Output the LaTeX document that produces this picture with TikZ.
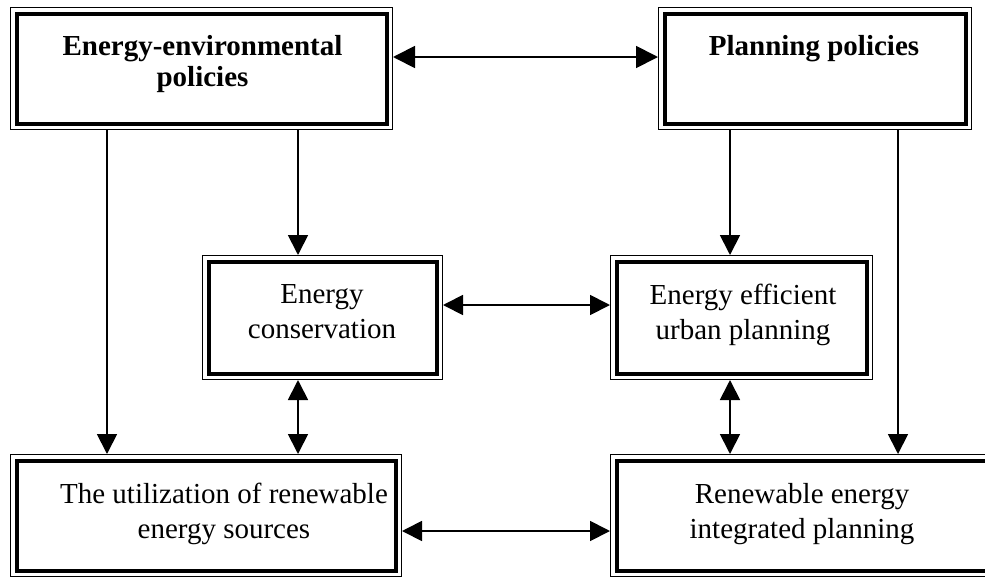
\documentclass[tikz,border=0pt]{standalone}
\usepackage{fontspec}
\setmainfont{Liberation Serif}
\usetikzlibrary{arrows.meta}
\begin{document}
\begin{tikzpicture}[x=1pt,y=-1pt,
  box/.style={draw=none, inner sep=0pt, outer sep=0pt},
  txt/.style={inner sep=0pt, outer sep=0pt, align=center,
    font=\fontsize{29}{35}\selectfont},
  boldtxt/.style={txt, font=\fontsize{29}{31}\selectfont\bfseries},
  arr/.style={line width=1.8pt, -{Triangle[length=20pt,width=20pt]}},
  darr/.style={line width=1.8pt, {Triangle[length=20pt,width=20pt]}-{Triangle[length=20pt,width=20pt]}},
  bigdarr/.style={line width=1.8pt, {Triangle[length=22pt,width=22pt]}-{Triangle[length=22pt,width=22pt]}}]
\useasboundingbox (0,0) rectangle (985,579);

% frames
\node[box, minimum width=383pt, minimum height=123pt] (EE) at (201.5,68.5) {};
\node[box, minimum width=314pt, minimum height=123pt] (PP) at (815,68.5) {};
\node[box, minimum width=241pt, minimum height=125pt] (EC) at (322.5,317.5) {};
\node[box, minimum width=263pt, minimum height=125pt] (EU) at (741.5,317.5) {};
\node[box, minimum width=392pt, minimum height=123pt] (UR) at (206,515.5) {};
\node[box, minimum width=384pt, minimum height=123pt] (RI) at (802,515.5) {};

% thin-thick borders
\foreach \n in {EE,PP,EC,EU,UR,RI}{
  \draw[line width=1pt] ([shift={(0.5,0.5)}]\n.north west) rectangle ([shift={(-0.5,-0.5)}]\n.south east);
  \draw[line width=4pt] ([shift={(6.5,6.5)}]\n.north west) rectangle ([shift={(-6.5,-6.5)}]\n.south east);
}

% labels
\node[boldtxt] (EEt) at (202.5,64.3) {\strut Energy-environmental\\\strut policies};
\node[boldtxt, anchor=base] (PPt) at (814,55) {Planning policies};
\node[txt] (ECt) at (322,313.5) {\strut Energy\\\strut conservation};
\node[txt] (EUt) at (743,314.5) {\strut Energy efficient\\\strut urban planning};
\node[txt] (URt) at (224,513.5) {\strut The utilization of renewable\\\strut energy sources};
\node[txt] (RIt) at (802,513.5) {\strut Renewable energy\\\strut integrated planning};

% columns of the vertical connectors
\coordinate (cA) at (107,0);
\coordinate (cB) at (298,0);
\coordinate (cC) at (730,0);
\coordinate (cD) at (898,0);
% rows of the horizontal connectors
\coordinate (rA) at (0,57);
\coordinate (rB) at (0,305);
\coordinate (rC) at (0,531);

\draw[bigdarr] (EE.east |- rA) -- (PP.west |- rA);
\draw[darr] (EC.east |- rB) -- (EU.west |- rB);
\draw[darr] (UR.east |- rC) -- (RI.west |- rC);

\draw[arr] (EE.south -| cA) -- (UR.north -| cA);
\draw[arr] (EE.south -| cB) -- (EC.north -| cB);
\draw[darr] (EC.south -| cB) -- (UR.north -| cB);
\draw[arr] (PP.south -| cC) -- (EU.north -| cC);
\draw[darr] (EU.south -| cC) -- (RI.north -| cC);
\draw[arr] (PP.south -| cD) -- (RI.north -| cD);
\end{tikzpicture}
\end{document}
